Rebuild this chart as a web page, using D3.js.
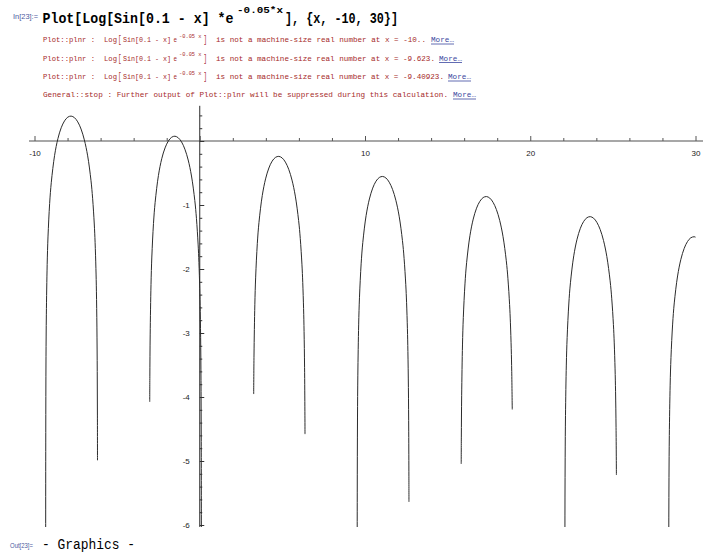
<!DOCTYPE html>
<html><head><meta charset="utf-8">
<script src="https://cdn.jsdelivr.net/npm/d3@7"></script>
<style>
html,body{margin:0;padding:0;background:#fff;}
svg{display:block;}
</style></head>
<body>
<svg id="c" width="703" height="552"></svg>
<script>
const lobe1X = [-9.3242,-9.3232,-9.3212,-9.3182,-9.3132,-9.3032,-9.2832,-9.2332,-9.1832,-9.0832,-8.9832,-8.7832,-8.5832,-8.3832,-8.1832,-7.9832,-7.7832,-7.5832,-7.3832,-7.1832,-6.9832,-6.7832,-6.5832,-6.4832,-6.3832,-6.3332,-6.2832,-6.2532,-6.2232,-6.2032,-6.1932,-6.1882];
const lobe1Y = [-6.964,-5.976,-5.163,-4.556,-3.992,-3.370,-2.716,-1.930,-1.499,-0.976,-0.645,-0.224,0.037,0.207,0.314,0.373,0.389,0.365,0.299,0.187,0.017,-0.232,-0.614,-0.895,-1.297,-1.584,-1.990,-2.347,-2.908,-3.602,-4.296,-4.989];
const lobe2X = [-3.027,-3.02,-3.0,-2.95,-2.9,-2.8,-2.7,-2.5,-2.3,-2.1,-1.9,-1.7,-1.5,-1.3,-1.1,-0.9,-0.7,-0.5,-0.3,-0.2,-0.1,-0.05,0.0,0.03,0.06,0.08,0.09,0.095,0.0985];
const lobe2Y = [-4.076,-3.685,-3.030,-2.244,-1.813,-1.290,-0.959,-0.538,-0.277,-0.108,0.000,0.059,0.075,0.050,-0.015,-0.128,-0.297,-0.547,-0.928,-1.209,-1.611,-1.898,-2.304,-2.662,-3.222,-3.916,-4.610,-5.303,-6.507];
const lobe3X = [3.2642,3.2832,3.3332,3.3832,3.4832,3.5832,3.7832,3.9832,4.1832,4.3832,4.5832,4.7832,4.9832,5.1832,5.3832,5.5832,5.7832,5.9832,6.0832,6.1832,6.2332,6.2832,6.3132,6.3432,6.3632,6.3691];
const lobe3Y = [-3.954,-3.344,-2.559,-2.127,-1.604,-1.273,-0.852,-0.592,-0.422,-0.314,-0.256,-0.240,-0.264,-0.330,-0.442,-0.611,-0.861,-1.242,-1.523,-1.925,-2.213,-2.619,-2.976,-3.536,-4.230,-4.580];
const lobe4X = [9.5254,9.5264,9.5284,9.5314,9.5364,9.5464,9.5664,9.6164,9.6664,9.7664,9.8664,10.0664,10.2664,10.4664,10.6664,10.8664,11.0664,11.2664,11.4664,11.6664,11.8664,12.0664,12.2664,12.3664,12.4664,12.5164,12.5664,12.5964,12.6264,12.6464,12.6564,12.6597];
const lobe4Y = [-7.907,-6.919,-6.105,-5.498,-4.934,-4.313,-3.659,-2.873,-2.441,-1.919,-1.587,-1.166,-0.906,-0.736,-0.628,-0.570,-0.554,-0.578,-0.644,-0.756,-0.926,-1.175,-1.556,-1.837,-2.239,-2.527,-2.933,-3.290,-3.851,-4.544,-5.238,-5.639];
const lobe5X = [15.8222,15.8296,15.8496,15.8996,15.9496,16.0496,16.1496,16.3496,16.5496,16.7496,16.9496,17.1496,17.3496,17.5496,17.7496,17.9496,18.1496,18.3496,18.5496,18.6496,18.7496,18.7996,18.8496,18.8796,18.9108];
const lobe5Y = [-5.046,-4.627,-3.973,-3.187,-2.756,-2.233,-1.901,-1.480,-1.220,-1.050,-0.943,-0.884,-0.868,-0.892,-0.958,-1.070,-1.240,-1.489,-1.871,-2.152,-2.554,-2.841,-3.247,-3.604,-4.195];
const lobe6X = [22.0917,22.0927,22.0947,22.0977,22.1027,22.1127,22.1327,22.1827,22.2327,22.3327,22.4327,22.6327,22.8327,23.0327,23.2327,23.4327,23.6327,23.8327,24.0327,24.2327,24.4327,24.6327,24.8327,24.9327,25.0327,25.0827,25.1327,25.1627,25.1927,25.2136];
const lobe6Y = [-8.535,-7.547,-6.734,-6.127,-5.563,-4.941,-4.287,-3.501,-3.070,-2.547,-2.215,-1.794,-1.534,-1.364,-1.257,-1.198,-1.182,-1.206,-1.272,-1.384,-1.554,-1.803,-2.185,-2.466,-2.868,-3.155,-3.561,-3.918,-4.479,-5.219];
const lobe7X = [28.3749,28.3759,28.3779,28.3809,28.3859,28.3959,28.4159,28.4659,28.5159,28.6159,28.7159,28.9159,29.1159,29.3159,29.5159,29.7159,29.9159,30.0];
const lobe7Y = [-8.849,-7.861,-7.048,-6.441,-5.877,-5.255,-4.601,-3.815,-3.384,-2.861,-2.530,-2.109,-1.848,-1.678,-1.571,-1.512,-1.496,-1.502];

const xMajorTicks = [-10, 0, 10, 20, 30];
const xTickLabels = [-10, 10, 20, 30];
const yMajorTicks = [0, -1, -2, -3, -4, -5, -6];
const yTickLabels = [-1, -2, -3, -4, -5, -6];

const lobes = [[lobe1X,lobe1Y],[lobe2X,lobe2Y],[lobe3X,lobe3Y],[lobe4X,lobe4Y],[lobe5X,lobe5Y],[lobe6X,lobe6Y],[lobe7X,lobe7Y]];

const svg = d3.select("#c");
svg.append("rect").attr("width",703).attr("height",552).attr("fill","#fff");

const x = d3.scaleLinear().domain([-10, 30]).range([34.5, 695.5]);
const y = d3.scaleLinear().domain([0, -6]).range([141, 525]);

// ---- header text ----
const mono = "'Liberation Mono','DejaVu Sans Mono',monospace";
function seg(t, x0, w, yb, size, fill, weight, family){
  const el = svg.append("text").attr("x", x0).attr("y", yb)
    .attr("font-family", family || mono).attr("font-size", size)
    .attr("fill", fill).attr("font-weight", weight || "normal").text(t);
  if (w) el.attr("textLength", w).attr("lengthAdjust", "spacingAndGlyphs");
  return el;
}
// one text element built from positioned pieces: [text, x, width, dy, size]
function pieces(parts, yb, fill, weight){
  const el = svg.append("text").attr("y", yb).attr("font-family", mono)
    .attr("fill", fill).attr("font-weight", weight || "normal");
  parts.forEach(p => {
    el.append("tspan").attr("x", p[1]).attr("dy", p[3]).attr("font-size", p[4])
      .attr("textLength", p[2]).attr("lengthAdjust", "spacingAndGlyphs").text(p[0]);
  });
  return el;
}
seg("In[23]:=", 13, 25, 19, 7.5, "#4b5a9e", "normal", "'Liberation Sans',Arial,sans-serif");
pieces([["Plot[Log[Sin[0.1 - x] *e", 42.5, 191, 0, 14.5],
        ["-0.05*x", 237, 46, -10, 9.5],
        ["], {x, -10, 30}]", 285, 113, 10, 14.5]], 23, "#000", "bold");

const red = "#a62a2a", blue = "#3a46a0";
const msgBase = [42, 60.5, 79, 97];
function more(x0, yb){
  seg("More\u2026", x0, 23, yb, 7.6, blue);
  svg.append("line").attr("x1", x0).attr("x2", x0 + 23).attr("y1", yb + 2).attr("y2", yb + 2)
    .attr("stroke", blue).attr("stroke-width", 0.8);
}
const tails = [["is not a machine-size real number at x = -10..", 210, 431],
               ["is not a machine-size real number at x = -9.623.", 219, 439],
               ["is not a machine-size real number at x = -9.40923.", 228, 448]];
tails.forEach((t, i) => {
  const yb = msgBase[i];
  seg("Plot::plnr :", 43, 52, yb, 7.6, red);
  pieces([["Log", 104, 13, 0, 7.6],
          ["[", 118, 3.5, 1, 10.5],
          ["Sin[0.1 - x]", 123, 48, -1, 7.6],
          ["e", 173.5, 3.5, 0, 7.6],
          ["-0.05 x", 179, 22.5, -4.5, 5.4],
          ["]", 203.5, 3.5, 5.5, 10.5]], yb, red);
  seg(t[0], 216, t[1], yb, 7.6, red);
  more(t[2], yb);
});
seg("General::stop : Further output of Plot::plnr will be suppressed during this calculation.", 43, 405, msgBase[3], 7.6, red);
more(453, msgBase[3]);

// ---- axes ----
const g = svg.append("g");
g.append("line").attr("x1", 29).attr("x2", 703).attr("y1", y(0)).attr("y2", y(0))
  .attr("stroke", "#8a8a8a").attr("stroke-width", 1.6);
g.append("line").attr("x1", x(0)).attr("x2", x(0)).attr("y1", y(0.55)).attr("y2", y(-6.03))
  .attr("stroke", "#2a2a2a").attr("stroke-width", 1);

const xMinor = d3.range(-10, 31, 2).filter(v => !xMajorTicks.includes(v));
function styleAxis(sel, color){
  sel.select(".domain").remove();
  sel.selectAll(".tick line").attr("stroke", color).attr("stroke-width", 1);
}
g.append("g").attr("transform", `translate(0,${y(0)})`)
  .call(d3.axisTop(x).tickValues(xMinor).tickSize(3).tickFormat(""))
  .call(s => styleAxis(s, "#555"));
g.append("g").attr("transform", `translate(0,${y(0)})`)
  .call(d3.axisTop(x).tickValues(xMajorTicks).tickSize(5).tickFormat(""))
  .call(s => styleAxis(s, "#555"));
g.append("g").attr("transform", `translate(0,${y(0)})`)
  .call(d3.axisBottom(x).tickValues(xTickLabels).tickSize(0).tickPadding(9).tickFormat(d => String(d)))
  .call(s => { s.select(".domain").remove();
    s.selectAll("text").attr("font-family","'Liberation Sans',Arial,sans-serif").attr("font-size", 8).attr("fill","#222"); });

const yMinor = d3.range(4, -61, -2).map(v => v / 10).filter(v => !yMajorTicks.includes(v));
g.append("g").attr("transform", `translate(${x(0)},0)`)
  .call(d3.axisRight(y).tickValues(yMinor).tickSize(2.5).tickFormat(""))
  .call(s => styleAxis(s, "#333"));
g.append("g").attr("transform", `translate(${x(0)},0)`)
  .call(d3.axisRight(y).tickValues(yMajorTicks).tickSize(4.5).tickFormat(""))
  .call(s => styleAxis(s, "#333"));
g.append("g").attr("transform", `translate(${x(0)},0)`)
  .call(d3.axisLeft(y).tickValues(yTickLabels).tickSize(0).tickPadding(10).tickFormat(d => String(d)))
  .call(s => { s.select(".domain").remove();
    s.selectAll("text").attr("font-family","'Liberation Sans',Arial,sans-serif").attr("font-size", 8).attr("fill","#222"); });

// ---- curves ----
svg.append("clipPath").attr("id", "clip").append("rect")
  .attr("x", 0).attr("y", 100).attr("width", 703).attr("height", y(-6.03) - 100);
const line = d3.line().x(d => x(d[0])).y(d => y(d[1])).curve(d3.curveCatmullRom.alpha(0.5));
svg.append("g").attr("clip-path", "url(#clip)")
  .selectAll("path").data(lobes).join("path")
  .attr("d", d => line(d3.zip(d[0], d[1])))
  .attr("fill", "none").attr("stroke", "#2b2b2b").attr("stroke-width", 1);

// ---- output label ----
seg("Out[23]=", 10, 23, 548, 7.5, "#4b5a9e", "normal", "'Liberation Sans',Arial,sans-serif");
seg("- Graphics -", 42, 93, 549, 14, "#000", "normal");
</script>
</body></html>
